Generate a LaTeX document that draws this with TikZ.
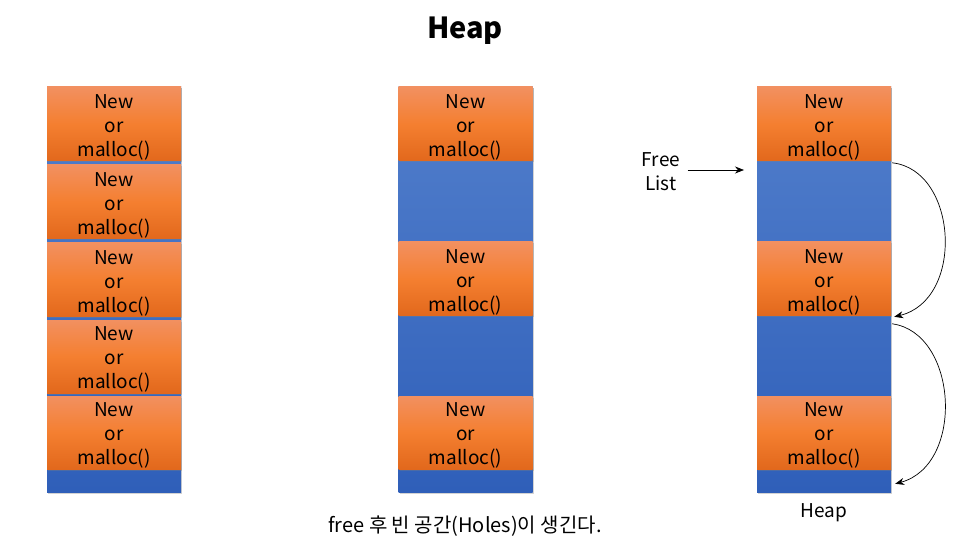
\documentclass[tikz,border=0pt]{standalone}
\usepackage{fontspec}
\setmainfont{Noto Sans CJK KR}
\usetikzlibrary{arrows.meta,shadows}
\definecolor{orTop}{HTML}{F29060}
\definecolor{orMid}{HTML}{F47F30}
\definecolor{orBot}{HTML}{E2681C}
\definecolor{blTop}{HTML}{527FCC}
\definecolor{blBot}{HTML}{2F5FB9}
\tikzset{
  alloc/.style={minimum width=134pt,minimum height=74pt,inner sep=0pt,
    top color=orTop,bottom color=orBot,middle color=orMid,
    align=center,font=\fontsize{19}{24}\selectfont,text=black,
    drop shadow={shadow xshift=1pt,shadow yshift=-1.5pt,opacity=0.35}},
  heapcol/.style={minimum width=134pt,minimum height=405pt,inner sep=0pt,
    top color=blTop,bottom color=blBot,
    drop shadow={shadow xshift=1pt,shadow yshift=-1.5pt,opacity=0.35}},
  hole/.style={minimum width=134pt,inner sep=0pt},
  lbl/.style={font=\fontsize{19}{24}\selectfont,align=center},
  link/.style={-{Stealth[length=9pt,width=7pt]},line width=0.7pt},
}
\begin{document}
\begin{tikzpicture}[x=1pt,y=-1pt]
\useasboundingbox (0,0) rectangle (961,545);
\newcommand{\alloctext}{\rule{0pt}{20pt}New\\or\\malloc()}
\node[font=\bfseries\fontsize{29}{34}\selectfont] (title) at (465,31) {Heap};
% left column
\node[heapcol] (colA) at (114,289.5) {};
\node[alloc] (a1) at (114,124) {\alloctext};
\node[alloc] (a2) at (114,202) {\alloctext};
\node[alloc] (a3) at (114,280) {\alloctext};
\node[alloc,minimum height=73pt] (a4) at (114,356.5) {\alloctext};
\node[alloc,minimum height=73pt] (a5) at (114,432.5) {\alloctext};
% middle column
\node[heapcol] (colB) at (465.5,289.5) {};
\node[alloc] (b1) at (465.5,124) {\alloctext};
\node[alloc] (b2) at (465.5,279) {\alloctext};
\node[alloc,minimum height=73pt] (b3) at (465.5,432.5) {\alloctext};
% right column
\node[heapcol] (colC) at (824,289.5) {};
\node[alloc] (c1) at (824,124) {\alloctext};
\node[alloc] (c2) at (824,279) {\alloctext};
\node[alloc,minimum height=73pt] (c3) at (824,432.5) {\alloctext};
% holes of the right column
\node[hole,minimum height=81pt] (h1) at (824,201.5) {};
\node[hole,minimum height=80pt] (h2) at (824,356) {};
\node[hole,minimum height=23pt] (h3) at (824,480.5) {};
% free list
\node[lbl] (free) at (661,172) {Free\\List};
\coordinate (fl) at (744,170);
\draw[link] ([xshift=4pt]free.east |- fl) -- (fl);
\draw[link] ([xshift=1pt,yshift=-2pt]h1.north east) .. controls (958,170) and (965,300) .. ([xshift=3pt,yshift=-1pt]h2.north east);
\draw[link] ([xshift=1pt,yshift=-8pt]h2.north east) .. controls (958,333) and (965,465) .. ([xshift=4pt,yshift=-15pt]h3.north east);
% captions
\node[lbl] (heaplbl) at (824,513) {Heap};
\node[lbl,font=\fontsize{20}{24}\selectfont] (caption) at (465,526) {free 후 빈 공간(Holes)이 생긴다.};
\end{tikzpicture}
\end{document}
